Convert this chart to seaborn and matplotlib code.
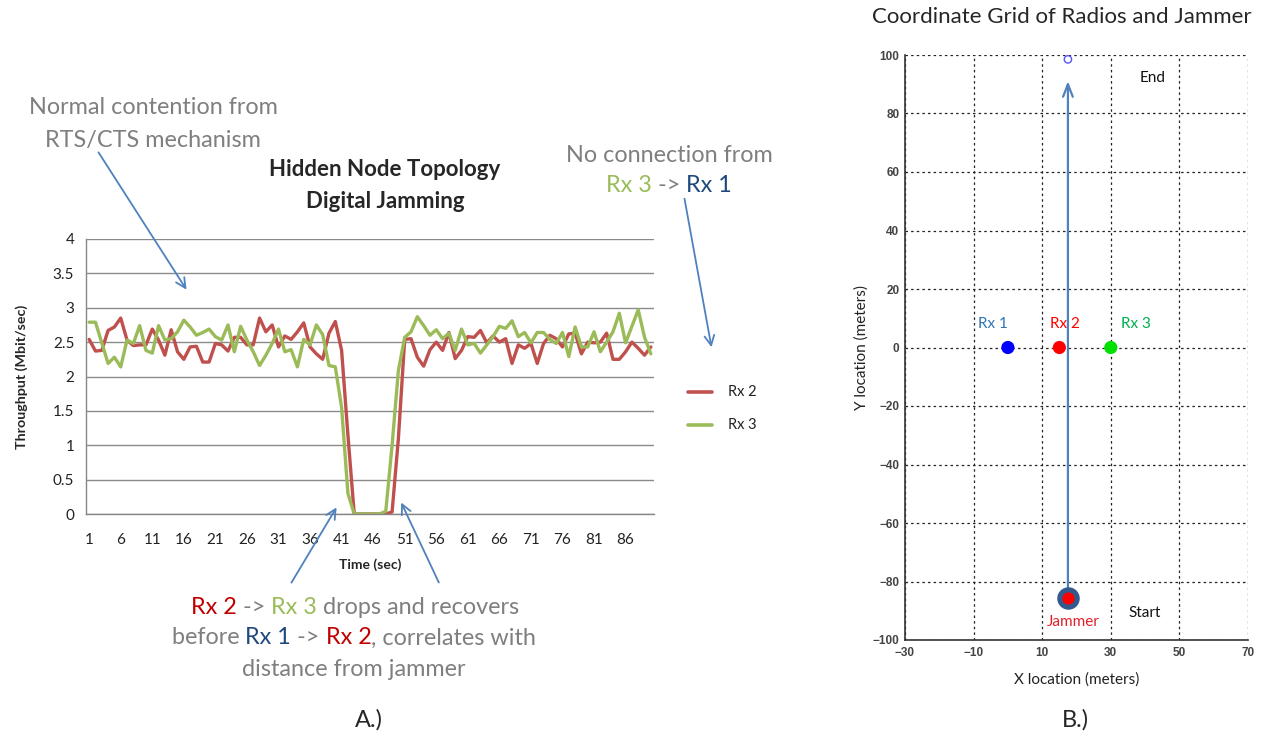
import pandas as pd
import matplotlib
matplotlib.use('Agg')
import matplotlib.pyplot as plt
import seaborn as sns
import numpy as np

# ---- data ----
time_sec = list(range(1, 91))
rx2 = [2.54, 2.37, 2.38, 2.67, 2.72, 2.85, 2.53, 2.45, 2.46, 2.46,
       2.69, 2.53, 2.31, 2.68, 2.36, 2.25, 2.43, 2.44, 2.21, 2.21,
       2.48, 2.46, 2.37, 2.57, 2.57, 2.46, 2.46, 2.85, 2.65, 2.75,
       2.43, 2.59, 2.54, 2.65, 2.78, 2.43, 2.33, 2.25, 2.63, 2.80,
       2.38, 1.15, 0.0, 0.0, 0.0, 0.0, 0.0, 0.0, 0.03, 1.10,
       2.54, 2.55, 2.28, 2.15, 2.39, 2.50, 2.38, 2.64, 2.26, 2.38,
       2.58, 2.57, 2.67, 2.49, 2.59, 2.50, 2.55, 2.19, 2.46, 2.41,
       2.48, 2.19, 2.48, 2.60, 2.55, 2.43, 2.62, 2.63, 2.33, 2.50,
       2.49, 2.50, 2.63, 2.25, 2.25, 2.36, 2.50, 2.41, 2.31, 2.43]
rx3 = [2.79, 2.79, 2.49, 2.19, 2.28, 2.14, 2.53, 2.48, 2.74, 2.38,
       2.34, 2.74, 2.53, 2.55, 2.65, 2.82, 2.72, 2.60, 2.64, 2.69,
       2.58, 2.53, 2.75, 2.36, 2.73, 2.53, 2.36, 2.16, 2.31, 2.48,
       2.69, 2.36, 2.39, 2.14, 2.54, 2.46, 2.75, 2.61, 2.16, 2.14,
       1.55, 0.30, 0.0, 0.0, 0.0, 0.0, 0.0, 0.04, 1.00, 2.09,
       2.57, 2.65, 2.87, 2.74, 2.60, 2.68, 2.55, 2.63, 2.38, 2.69,
       2.46, 2.48, 2.34, 2.46, 2.58, 2.73, 2.70, 2.81, 2.58, 2.64,
       2.49, 2.64, 2.64, 2.54, 2.48, 2.64, 2.29, 2.72, 2.43, 2.43,
       2.65, 2.36, 2.50, 2.65, 2.92, 2.49, 2.73, 2.97, 2.57, 2.33]
time_ticks = [1, 6, 11, 16, 21, 26, 31, 36, 41, 46, 51, 56, 61, 66, 71, 76, 81, 86]

radio_names = ['Rx 1', 'Rx 2', 'Rx 3']
radio_x = [0, 15, 30]
radio_y = [0, 0, 0]
jammer_start = (17.5, -85.5)
jammer_end = (17.5, 98.5)

RED = '#c0504d'
GREEN = '#9bbb59'
GRAY = '#7f7f7f'
DBLUE = '#1f497d'
ARROW = '#4f81bd'
W, H = 1276, 742

sns.set_style('white')
plt.rcParams['font.family'] = ['Lato', 'DejaVu Sans']

fig = plt.figure(figsize=(W / 100, H / 100), dpi=100)

# ---- left chart ----
ax1 = fig.add_axes([86 / W, 1 - 514 / H, 568 / W, 275 / H])
df = pd.DataFrame({'time': time_sec * 2,
                   'throughput': rx2 + rx3,
                   'radio': ['Rx 2'] * len(rx2) + ['Rx 3'] * len(rx3)})
sns.lineplot(data=df, x='time', y='throughput', hue='radio',
             palette=[RED, GREEN], linewidth=2.4, ax=ax1, legend=False)
ax1.set_xlim(0.5, 90.5)
ax1.set_ylim(0, 4)
ax1.set_yticks(np.arange(0, 4.01, 0.5))
ax1.set_yticklabels(['0', '0.5', '1', '1.5', '2', '2.5', '3', '3.5', '4'])
ax1.set_xticks(time_ticks)
ax1.set_xticks(np.arange(0.5, 91, 10), minor=True)
ax1.tick_params(axis='x', which='major', length=0, labelsize=11, pad=14, colors='#222222')
ax1.tick_params(axis='x', which='minor', length=5, color='#868686', direction='out')
ax1.tick_params(axis='y', length=5, color='#868686', direction='out', labelsize=11,
                colors='#222222')
ax1.yaxis.grid(True, color='#8a8a8a', linewidth=1)
ax1.set_axisbelow(True)
for s in ['top', 'right']:
    ax1.spines[s].set_visible(False)
for s in ['left', 'bottom']:
    ax1.spines[s].set_color('#868686')
    ax1.spines[s].set_linewidth(1)
ax1.set_xlabel('Time (sec)', fontweight='bold', fontsize=10, labelpad=8)
ax1.set_ylabel('Throughput (Mbit/sec)', fontweight='bold', fontsize=10.3, labelpad=18)

# legend
for name, col, yy in [('Rx 2', RED, 392), ('Rx 3', GREEN, 425)]:
    fig.add_artist(plt.Line2D([688 / W, 712 / W], [1 - yy / H, 1 - yy / H],
                              color=col, linewidth=2.6))
    fig.text(728 / W, 1 - yy / H, name, fontsize=10.5, va='center', color='#222222')

fig.text(385 / W, 1 - 170 / H, 'Hidden Node Topology', fontsize=16, fontweight='bold',
         ha='center', va='center')
fig.text(385 / W, 1 - 201 / H, 'Digital Jamming', fontsize=16, fontweight='bold',
         ha='center', va='center')

renderer = fig.canvas.get_renderer()


def color_line(xc, yc, parts, size):
    texts = []
    widths = []
    for s, c in parts:
        t = fig.text(0, 1 - yc / H, s, color=c, fontsize=size, va='center', ha='left')
        widths.append(t.get_window_extent(renderer).width)
        texts.append(t)
    x = xc - sum(widths) / 2
    for t, w in zip(texts, widths):
        t.set_x(x / W)
        x += w


FS = 16.8
color_line(153, 108, [('Normal contention from', GRAY)], FS)
color_line(153, 140, [('RTS/CTS mechanism', GRAY)], FS)
color_line(669, 155, [('No connection from', GRAY)], FS)
color_line(669, 186, [('Rx 3', GREEN), (' -> ', GRAY), ('Rx 1', DBLUE)], FS)
color_line(355, 608, [('Rx 2', '#c00000'), (' -> ', GRAY), ('Rx 3', GREEN),
                      (' drops and recovers', GRAY)], FS)
color_line(354, 638, [('before ', GRAY), ('Rx 1', DBLUE), (' -> ', GRAY),
                      ('Rx 2', '#c00000'), (', correlates with', GRAY)], FS)
color_line(354, 669, [('distance from jammer', GRAY)], FS)


def arrow(x1, y1, x2, y2):
    ax1.annotate('', xy=(x2, H - y2), xytext=(x1, H - y1),
                 xycoords='figure pixels', textcoords='figure pixels',
                 annotation_clip=False,
                 arrowprops=dict(arrowstyle='->,head_length=0.7,head_width=0.35',
                                 color=ARROW, lw=1.3))


arrow(97, 150, 188, 292)
arrow(684, 196, 712, 350)
arrow(290, 585, 338, 505)
arrow(440, 585, 400, 500)

fig.text(369 / W, 1 - 720 / H, 'A.)', fontsize=17, ha='center', va='center')
fig.text(1075 / W, 1 - 720 / H, 'B.)', fontsize=17, ha='center', va='center')

# ---- right chart ----
ax2 = fig.add_axes([905 / W, 1 - 640 / H, 343 / W, 585 / H])
rdf = pd.DataFrame({'x': radio_x, 'y': radio_y, 'radio': radio_names})
sns.scatterplot(data=rdf, x='x', y='y', hue='radio', palette=['#0000ff', '#ff0000', '#00e000'],
                s=90, edgecolor='none', legend=False, ax=ax2, zorder=5)
label_cols = ['#2e75b6', '#ff0000', '#00b050']
label_dx = [-4.3, 1.6, 7.3]
for name, xx, col, dx in zip(radio_names, radio_x, label_cols, label_dx):
    ax2.text(xx + dx, 8, name, color=col, fontsize=11, ha='center', va='center')

ax2.annotate('', xy=(jammer_start[0], 92), xytext=(jammer_start[0], jammer_start[1] + 2),
             arrowprops=dict(arrowstyle='->,head_length=0.9,head_width=0.35',
                             color=ARROW, lw=1.6), zorder=3)
ax2.scatter([jammer_start[0]], [jammer_start[1]], s=230, color='#34598c', zorder=6)
ax2.scatter([jammer_start[0]], [jammer_start[1]], s=60, color='#ff0000', zorder=7)
ax2.scatter([jammer_end[0]], [jammer_end[1]], s=28, facecolors='none',
            edgecolors='#5555ff', linewidths=1, zorder=6)
ax2.text(19, -93.7, 'Jammer', color='#e0202a', fontsize=11, ha='center', va='center')
ax2.text(40, -90.6, 'Start', color='#111111', fontsize=11, ha='center', va='center')
ax2.text(42.3, 92, 'End', color='#111111', fontsize=11, ha='center', va='center')

ax2.set_xlim(-30, 70)
ax2.set_ylim(-100, 100)
ax2.set_xticks([-30, -10, 10, 30, 50, 70])
ax2.set_yticks(np.arange(-100, 101, 20))
ax2.grid(True, color='#222222', linestyle=(0, (2, 2.5)), linewidth=0.9)
for s in ['top', 'right']:
    ax2.spines[s].set_visible(False)
for s in ['left', 'bottom']:
    ax2.spines[s].set_color('#333333')
    ax2.spines[s].set_linewidth(1.2)
ax2.tick_params(axis='x', length=0, pad=5, colors='#444444')
ax2.tick_params(axis='y', length=0, pad=4, colors='#444444')
for lab in ax2.get_xticklabels() + ax2.get_yticklabels():
    lab.set_fontfamily('Liberation Sans')
    lab.set_fontweight('bold')
    lab.set_fontsize(8.5)
ax2.set_xlabel('X location (meters)', fontsize=11, labelpad=10, color='#222222')
ax2.set_ylabel('Y location (meters)', fontsize=11, labelpad=3, color='#222222')
fig.text(1062 / W, 1 - 17 / H, 'Coordinate Grid of Radios and Jammer', fontsize=16,
         ha='center', va='center')

fig.savefig('out.png', dpi=100)
